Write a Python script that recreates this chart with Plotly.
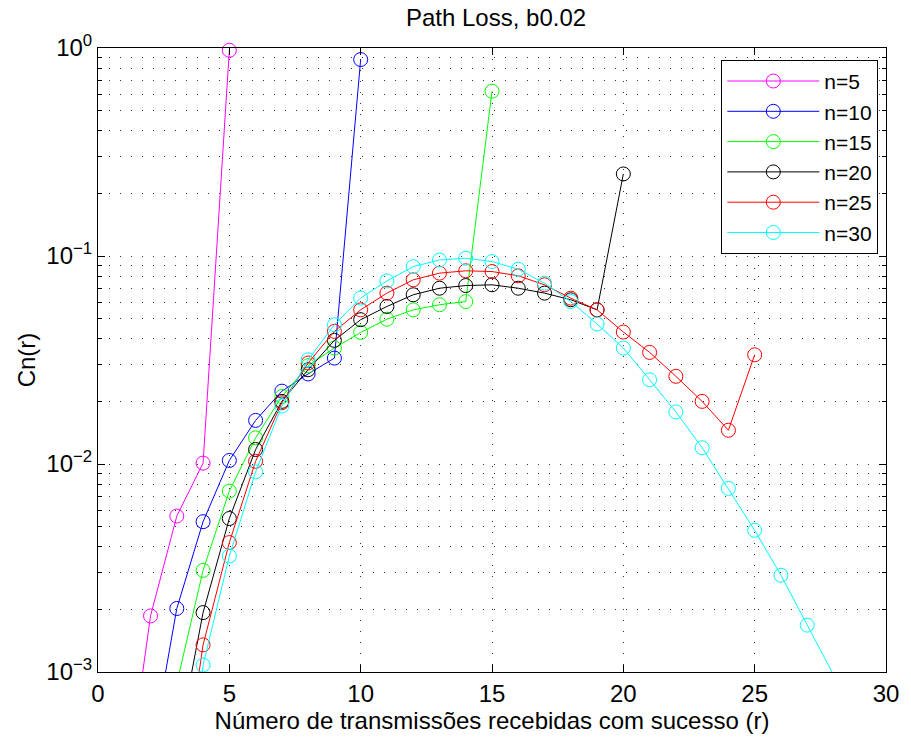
import plotly.graph_objects as go

# ---- data ----
x5 = [1, 2, 3, 4, 5]
y5 = [2.3e-4, 1.86e-3, 5.62e-3, 0.0101, 0.975]

x10 = [2, 3, 4, 5, 6, 7, 8, 9, 10]
y10 = [3.9e-4, 2.02e-3, 5.28e-3, 0.0104, 0.0162, 0.0224, 0.0271, 0.0323, 0.88]

x15 = list(range(3, 16))
y15 = [8.8e-4, 3.08e-3, 7.41e-3, 0.01336, 0.0211, 0.0297, 0.0361, 0.0429,
       0.0497, 0.0551, 0.0583, 0.0604, 0.62]

x20 = list(range(3, 21))
y20 = [4.2e-4, 1.93e-3, 5.47e-3, 0.01174, 0.0200, 0.0284, 0.0393, 0.0494,
       0.0572, 0.0651, 0.0700, 0.0721, 0.0727, 0.0700, 0.0663, 0.0616,
       0.0551, 0.248]

x25 = list(range(3, 26))
y25 = [1.8e-4, 1.35e-3, 4.19e-3, 0.0103, 0.0197, 0.0306, 0.0434, 0.0551,
       0.0663, 0.0768, 0.0827, 0.0849, 0.0842, 0.0803, 0.0727, 0.0627,
       0.0551, 0.0431, 0.0344, 0.0264, 0.0200, 0.01453, 0.0335]

x30 = list(range(3, 29))
y30 = [6.3e-5, 1.08e-3, 3.61e-3, 9.17e-3, 0.0190, 0.0317, 0.0467, 0.0628,
       0.0759, 0.0889, 0.0957, 0.0976, 0.0940, 0.0864, 0.0740, 0.0604,
       0.0471, 0.0361, 0.0254, 0.0178, 0.01197, 7.63e-3, 4.80e-3, 2.92e-3,
       1.68e-3, 9.7e-4]

series = [
    ("n=5", x5, y5, "#ff00ff"),
    ("n=10", x10, y10, "#0000ff"),
    ("n=15", x15, y15, "#00ff00"),
    ("n=20", x20, y20, "#000000"),
    ("n=25", x25, y25, "#ff0000"),
    ("n=30", x30, y30, "#00ffff"),
]

y_major = [1e-3, 1e-2, 1e-1, 1e0]
y_major_text = ["10<sup>\u22123</sup>", "10<sup>\u22122</sup>",
                "10<sup>\u22121</sup>", "10<sup>0</sup>"]
y_minor = [m * 10.0 ** e for e in (-3, -2, -1) for m in range(2, 10)]
x_ticks = [0, 5, 10, 15, 20, 25, 30]

FONT = "Liberation Sans, Arial, sans-serif"
DOT = "1px,10px"

fig = go.Figure()
for name, xs, ys, col in series:
    fig.add_trace(go.Scatter(
        x=xs, y=ys, name=name, mode="lines+markers",
        line=dict(color=col, width=1),
        marker=dict(symbol="circle-open", size=14, color=col,
                    line=dict(width=1, color=col)),
        cliponaxis=False,
    ))

fig.update_layout(
    width=911, height=742,
    margin=dict(l=98, r=18, t=48, b=69),
    paper_bgcolor="white", plot_bgcolor="white",
    font=dict(family=FONT, size=24, color="black"),
    title=dict(text="Path Loss, b0.02", x=0.5445, xanchor="center",
               y=1 - 18 / 742, yanchor="middle", yref="container",
               font=dict(size=24)),
    showlegend=True,
    legend=dict(x=0.791, y=0.981, xanchor="left", yanchor="top",
                bordercolor="black", borderwidth=1, bgcolor="white",
                font=dict(size=21), itemwidth=92,
                tracegroupgap=0),
)

fig.update_xaxes(
    range=[0, 30], tickmode="array", tickvals=x_ticks,
    ticks="inside", ticklen=7, tickcolor="black", tickwidth=1,
    showline=True, linecolor="black", linewidth=1, mirror="ticks",
    showgrid=True, gridcolor="#333333", gridwidth=1, griddash=DOT,
    zeroline=False, tickfont=dict(size=24),
    title=dict(text="Número de transmissões recebidas com sucesso (r)",
               standoff=6, font=dict(size=24)),
)
fig.update_yaxes(
    type="log", range=[-3, 0], tickmode="array", tickvals=y_major,
    ticktext=y_major_text,
    ticks="inside", ticklen=7, tickcolor="black", tickwidth=1,
    showline=True, linecolor="black", linewidth=1, mirror="ticks",
    showgrid=True, gridcolor="#333333", gridwidth=1, griddash=DOT,
    zeroline=False, tickfont=dict(size=24),
    minor=dict(tickmode="array", tickvals=y_minor, ticks="inside",
               ticklen=4, tickcolor="black", showgrid=True,
               gridcolor="#333333", gridwidth=1, griddash=DOT),
    title=dict(text="Cn(r)", standoff=3, font=dict(size=24)),
)

fig.write_html("out.html")
